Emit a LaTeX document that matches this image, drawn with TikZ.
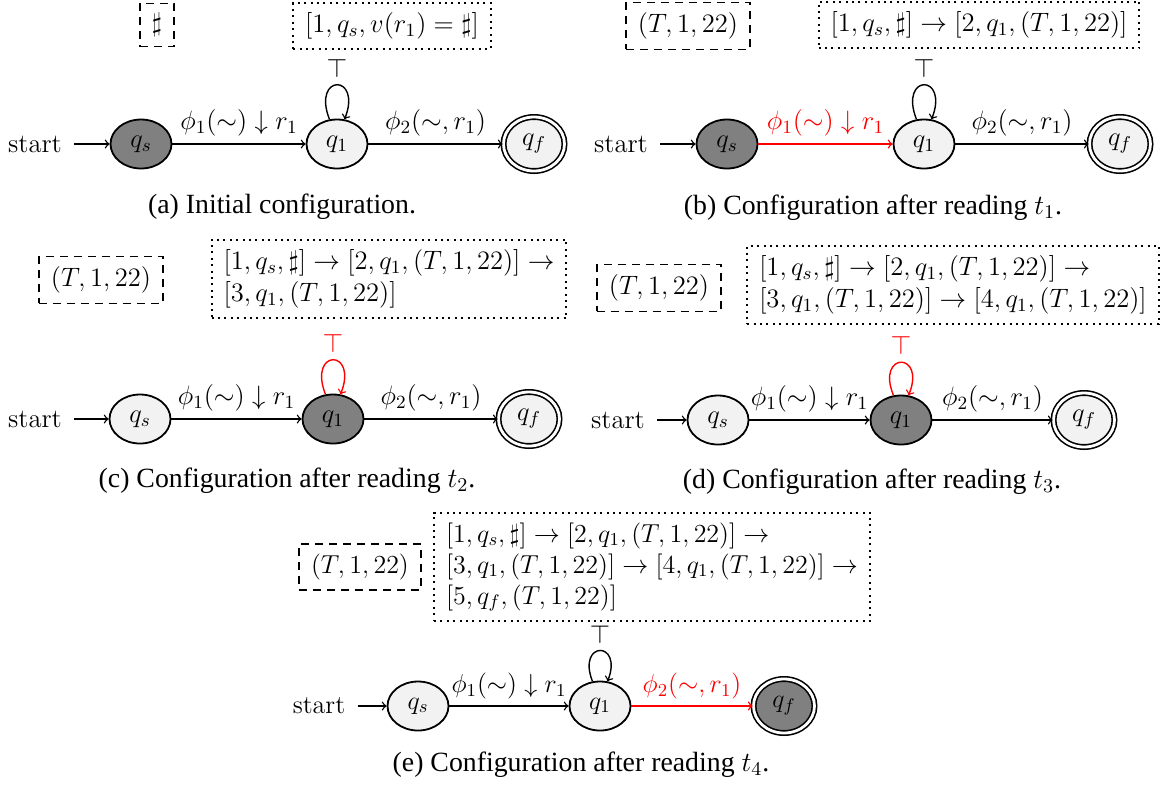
\RequirePackage{fix-cm}
\documentclass[tikz,border=0pt]{standalone}
\usepackage{fontspec}
\newfontfamily\capfont{Liberation Serif}
\usetikzlibrary{shapes.geometric}
\begin{document}
\begin{tikzpicture}[x=0.5pt,y=0.5pt,
  every node/.style={font=\fontsize{13.3}{16}\selectfont},
  stnode/.style={ellipse, draw, line width=0.9pt, minimum width=30.5pt, minimum height=24.5pt, inner sep=0pt},
  lt/.style={stnode, fill=black!5},
  dk/.style={stnode, fill=black!50},
  acc/.style={double, double distance=1.4pt, line width=0.8pt, minimum width=30.5pt, minimum height=27pt},
  ed/.style={->, line width=0.7pt},
  hot/.style={red},
  dotbox/.style={draw, line width=1pt, dash pattern=on 1pt off 2.2pt, inner xsep=6pt, inner ysep=5pt, align=left},
  dashbox/.style={draw, line width=0.6pt, dash pattern=on 4pt off 3pt, inner xsep=6pt, inner ysep=5pt},
  captxt/.style={font=\capfont\fontsize{13.9}{16}\selectfont},
  startlbl/.style={inner xsep=6pt},
  small/.style={font=\fontsize{13}{15.5}\selectfont}
]
\useasboundingbox (0,0) rectangle (1163,-784);

% ---------- (a)
\node[startlbl] (sA) at (35,-144) {start};
\node[dk] (qsA) at (141,-144) {$q_s$};
\node[lt] (q1A) at (337,-144) {$q_1$};
\node[lt,acc] (qfA) at (534,-144) {$q_f$};
\draw[ed] (sA) -- (qsA);
\draw[ed] (qsA) -- node[above] {$\phi_1(\sim)\downarrow r_1$} (q1A);
\draw[ed] (q1A) -- node[above] {$\phi_2(\sim,r_1)$} (qfA);
\draw[ed] (q1A.107) .. controls +(-18,46) and +(18,46) .. node[above] {$\top$} (q1A.73);
\node[dashbox] (dA) at (157,-25) {$\sharp$};
\node[dotbox] (pA) at (392,-26) {$[1,q_s,v(r_1)=\sharp]$};
\node[captxt] (cA) at (282,-207) {(a) Initial configuration.};

% ---------- (b)
\node[startlbl] (sB) at (621,-144) {start};
\node[dk] (qsB) at (727,-144) {$q_s$};
\node[lt] (q1B) at (924,-144) {$q_1$};
\node[lt,acc] (qfB) at (1120,-144) {$q_f$};
\draw[ed] (sB) -- (qsB);
\draw[ed,hot] (qsB) -- node[above] {$\phi_1(\sim)\downarrow r_1$} (q1B);
\draw[ed] (q1B) -- node[above] {$\phi_2(\sim,r_1)$} (qfB);
\draw[ed] (q1B.107) .. controls +(-18,46) and +(18,46) .. node[above] {$\top$} (q1B.73);
\node[dashbox] (dB) at (688,-26) {$(T,1,22)$};
\node[dotbox] (pB) at (979,-25) {$[1,q_s,\sharp]\rightarrow[2,q_1,(T,1,22)]$};
\node[captxt] (cB) at (873,-208) {(b) Configuration after reading $t_1$.};

% ---------- (c)
\node[startlbl] (sC) at (35,-419) {start};
\node[lt] (qsC) at (140,-419) {$q_s$};
\node[dk] (q1C) at (333,-419) {$q_1$};
\node[lt,acc] (qfC) at (529,-419) {$q_f$};
\draw[ed] (sC) -- (qsC);
\draw[ed] (qsC) -- node[above] {$\phi_1(\sim)\downarrow r_1$} (q1C);
\draw[ed] (q1C) -- node[above] {$\phi_2(\sim,r_1)$} (qfC);
\draw[ed,hot] (q1C.107) .. controls +(-18,46) and +(18,46) .. node[above] {$\top$} (q1C.73);
\node[dashbox] (dC) at (101,-280) {$(T,1,22)$};
\node[dotbox] (pC) at (389,-279) {$[1,q_s,\sharp]\rightarrow[2,q_1,(T,1,22)]\rightarrow$\\$[3,q_1,(T,1,22)]$};
\node[captxt] (cC) at (287,-481) {(c) Configuration after reading $t_2$.};

% ---------- (d)
\node[startlbl] (sD) at (618,-420) {start};
\node[lt] (qsD) at (718,-420) {$q_s$};
\node[dk] (q1D) at (901,-420) {$q_1$};
\node[lt,acc] (qfD) at (1084,-420) {$q_f$};
\draw[ed] (sD) -- (qsD);
\draw[ed] (qsD) -- node[above] {$\phi_1(\sim)\downarrow r_1$} (q1D);
\draw[ed] (q1D) -- node[above] {$\phi_2(\sim,r_1)$} (qfD);
\draw[ed,hot] (q1D.107) .. controls +(-18,44) and +(18,44) .. node[above] {$\top$} (q1D.73);
\node[dashbox] (dD) at (659,-288) {$(T,1,22)$};
\node[dotbox] (pD) at (953,-285) {$[1,q_s,\sharp]\rightarrow[2,q_1,(T,1,22)]\rightarrow$\\$[3,q_1,(T,1,22)]\rightarrow[4,q_1,(T,1,22)]$};
\node[captxt] (cD) at (872,-482) {(d) Configuration after reading $t_3$.};

% ---------- (e)
\begin{scope}[every node/.append style={small}]
\node[startlbl] (sE) at (319,-706) {start};
\node[lt] (qsE) at (418,-706) {$q_s$};
\node[lt] (q1E) at (600,-706) {$q_1$};
\node[dk,acc] (qfE) at (784,-706) {$q_f$};
\draw[ed] (sE) -- (qsE);
\draw[ed] (qsE) -- node[above] {$\phi_1(\sim)\downarrow r_1$} (q1E);
\draw[ed,hot] (q1E) -- node[above] {$\phi_2(\sim,r_1)$} (qfE);
\draw[ed] (q1E.107) .. controls +(-16,41) and +(16,41) .. node[above, inner sep=3pt] {$\top$} (q1E.73);
\node[dashbox] (dE) at (360,-567) {$(T,1,22)$};
\node[dotbox] (pE) at (652,-567) {$[1,q_s,\sharp]\rightarrow[2,q_1,(T,1,22)]\rightarrow$\\$[3,q_1,(T,1,22)]\rightarrow[4,q_1,(T,1,22)]\rightarrow$\\$[5,q_f,(T,1,22)]$};
\end{scope}
\node[captxt] (cE) at (581,-765) {(e) Configuration after reading $t_4$.};
\end{tikzpicture}
\end{document}
